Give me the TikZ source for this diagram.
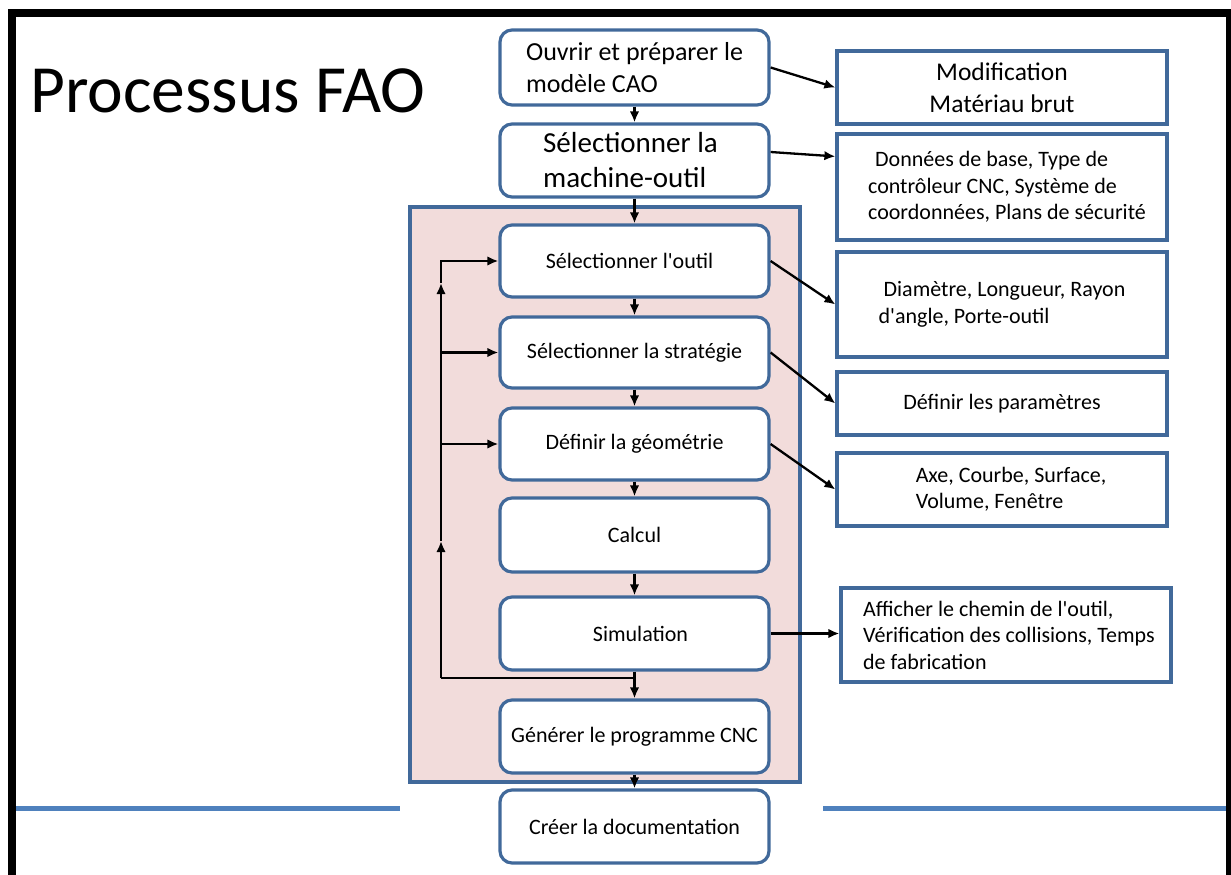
\documentclass[tikz,border=0pt]{standalone}
\usepackage{fontspec}
\setmainfont{Carlito}
\usetikzlibrary{arrows.meta,calc}
\definecolor{frameblue}{HTML}{41699A}
\definecolor{rulerblue}{HTML}{4F81BD}
\definecolor{groupfill}{HTML}{F2DCDB}
\newcommand{\apos}{\textquotesingle}
\tikzset{
  stepbox/.style={draw=frameblue, line width=3.2pt, fill=white, rounded corners=12pt,
    minimum width=269pt, minimum height=#1, inner sep=0pt, align=left,
    font=\fontsize{22}{26}\selectfont},
  stepbox/.default=73pt,
  infobox/.style={draw=frameblue, line width=3.2pt, fill=white,
    minimum width=330pt, minimum height=#1, inner sep=0pt, align=left,
    font=\fontsize{22}{26.5}\selectfont},
  infobox/.default=73pt,
  flow/.style={draw=black, line width=2.3pt, -{Latex[length=11pt,width=9.5pt]}},
  plain/.style={draw=black, line width=2.3pt}
}
\begin{document}
\begin{tikzpicture}[x=1pt,y=-1pt]
\useasboundingbox (0,0) rectangle (1231,875);
% slide frame
\fill[black] (8,9) rectangle (1231,17);
\fill[black] (8,9) rectangle (16,875);
\fill[black] (1226,9) rectangle (1231,875);
% horizontal rule of the slide
\draw[rulerblue, line width=5pt] (16,808) -- (400,808);
\draw[rulerblue, line width=5pt] (823,808) -- (1226,808);
% title
\node[anchor=base west, font=\fontsize{67.5}{72}\selectfont, inner sep=0pt] (title) at (30,112) {Processus FAO};
% iterative group
\node[draw=frameblue, line width=3.2pt, fill=groupfill, minimum width=390pt, minimum height=575pt, inner sep=0pt] (group) at (605,494.5) {};
% main steps
\node[stepbox=75pt, font=\fontsize{26}{32}\selectfont] (ouvrir) at (634.5,67.5) {Ouvrir et préparer le\\modèle CAO};
\node[stepbox=73pt, font=\fontsize{29}{35}\selectfont] (machine) at (634.5,160.5) {Sélectionner la\hspace*{8pt}\\machine-outil};
\node[stepbox=72pt] (outil) at (634.5,261) {Sélectionner l\apos outil\hspace*{10pt}};
\node[stepbox=71pt] (strat) at (634.5,352.5) {Sélectionner la stratégie};
\node[stepbox=72pt] (geom) at (634.5,444) {Définir la géométrie};
\node[stepbox=74pt] (calcul) at (634.5,535) {Calcul};
\node[stepbox=73pt] (simul) at (634.5,633.5) {\hspace*{12pt}Simulation};
\node[stepbox=73pt] (gen) at (634.5,736.5) {Générer le programme CNC};
\node[stepbox=73pt] (creer) at (634.5,826.5) {Créer la documentation};
% parameter boxes
\node[infobox=73pt, align=center, font=\fontsize{25.5}{32}\selectfont] (modif) at (1002,87.5) {Modification\\Matériau brut};
\node[infobox=106pt] (donnees) at (1002,187) {\hspace*{17pt}Données de base, Type de\\\hspace*{10pt}contrôleur CNC, Système de\\\hspace*{10pt}coordonnées, Plans de sécurité};
\node[infobox=105pt] (diam) at (1002,304.5) {\hspace*{5pt}Diamètre, Longueur, Rayon\\d\apos angle, Porte-outil};
\node[infobox=63pt] (param) at (1002,403.5) {Définir les paramètres};
\node[infobox=73pt] (axe) at (1002,489.5) {\hspace*{18pt}Axe, Courbe, Surface,\\\hspace*{18pt}Volume, Fenêtre};
\node[infobox=94pt] (affich) at (1006,635) {\hspace*{6pt}Afficher le chemin de l\apos outil,\\\hspace*{6pt}Vérification des collisions, Temps\\\hspace*{6pt}de fabrication};
% main flow
\draw[flow] (ouvrir) -- (machine);
\draw[flow] (machine) -- (outil);
\draw[flow] (outil) -- (strat);
\draw[flow] (strat) -- (geom);
\draw[flow] (geom) -- (calcul);
\draw[flow] (calcul) -- (simul);
\draw[flow] (simul) -- (gen);
\draw[flow] (gen) -- (creer);
% feedback loop
\coordinate (loopL) at (441,678);
\coordinate (upA) at (441,541);
\coordinate (upB) at (441,283);
\draw[plain] (simul.south |- loopL) -- (loopL);
\draw[flow] (loopL) -- (upA);
\draw[flow] (upA) -- (upB);
\draw[flow] (upB) -- (upB |- outil.west) -- (outil.west);
\draw[flow] (loopL |- strat.west) -- (strat.west);
\draw[flow] (loopL |- geom.west) -- (geom.west);
% links to parameter boxes
\draw[flow] (ouvrir.east) -- (modif.west);
\draw[flow] ([yshift=8.5pt]machine.east) -- ($(donnees.north west)!0.22!(donnees.south west)$);
\draw[flow] (outil.east) -- (diam.west);
\draw[flow] (strat.east) -- (param.west);
\draw[flow] (geom.east) -- (axe.west);
\draw[flow] (simul.east) -- (simul.east -| affich.west);
\end{tikzpicture}
\end{document}
